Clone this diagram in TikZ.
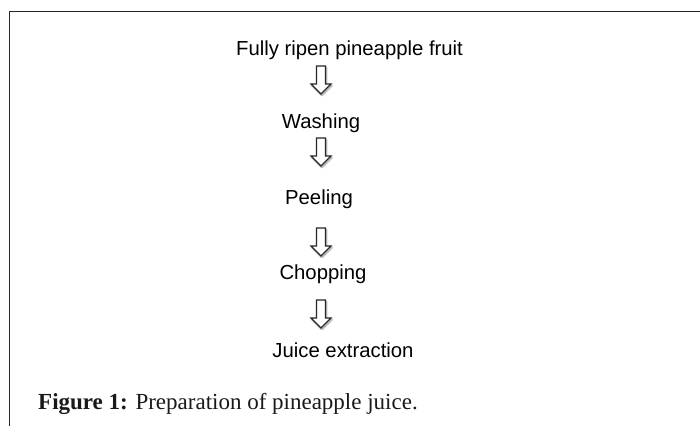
\documentclass[tikz,border=0pt]{standalone}
\usepackage{fontspec}
\setmainfont{Liberation Serif}
\newfontfamily\arialfont{Liberation Sans}
\tikzset{
  stepnode/.style={font=\arialfont\fontsize{20.3}{24}\selectfont, inner sep=0pt, anchor=base, text=black},
  framestyle/.style={draw=black!85, line width=1.2pt},
  blockarrow/.style={draw=black!85, fill=white, line width=1.2pt, line join=miter},
  arrowshadow/.style={draw=black!25, line width=1.8pt, line join=round},
  blockarr/.pic={
    \draw[arrowshadow] (-3.5,1.5) -- (5.5,1.5) -- (5.5,19.5) -- (11,19.5) -- (1,29.5) -- (-9,19.5) -- (-3.5,19.5) -- cycle;
    \draw[blockarrow] (-4.5,0) -- (4.5,0) -- (4.5,18) -- (10,18) -- (0,28) -- (-10,18) -- (-4.5,18) -- cycle;
  }
}
\begin{document}
\begin{tikzpicture}[x=1pt,y=-1pt]
\useasboundingbox (0,0) rectangle (700,426);
\fill[white] (0,0) rectangle (700,426);
\draw[framestyle] (9.5,426) -- (9.5,11.5) -- (700,11.5);
\node[stepnode] (fruit) at (349.5,55) {Fully ripen pineapple fruit};
\node[stepnode] (wash) at (321,128) {Washing};
\node[stepnode] (peel) at (319,204) {Peeling};
\node[stepnode] (chop) at (323,279) {Chopping};
\node[stepnode] (juice) at (343,357) {Juice extraction};
\pic at (321,66) {blockarr};
\pic at (321,138) {blockarr};
\pic at (321,228) {blockarr};
\pic at (321,300) {blockarr};
\node[anchor=base west, font=\fontsize{23}{27}\selectfont, inner sep=0pt, text=black!90] (cap) at (38,409) {\textbf{Figure 1:} Preparation of pineapple juice.};
\end{tikzpicture}
\end{document}
